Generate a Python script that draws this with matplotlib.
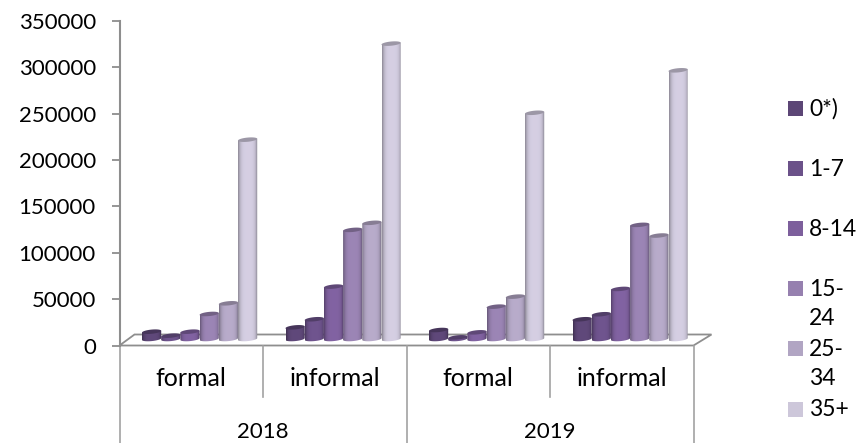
import matplotlib
matplotlib.use('Agg')
import matplotlib.pyplot as plt
import numpy as np
from matplotlib.colors import to_rgb
from matplotlib.patches import PathPatch, Polygon, Rectangle
from matplotlib.path import Path

years = ['2018', '2019']
sectors = ['formal', 'informal', 'formal', 'informal']
ages = ['0*)', '1-7', '8-14', '15-\n24', '25-\n34', '35+']
colors = ['#5c4676', '#6b5189', '#7d5f9c', '#9680af', '#b1a5c3', '#cdc7da']

age_0 = [7900, 12600, 9700, 21300]
age_1_7 = [3600, 21300, 1800, 26700]
age_8_14 = [7900, 56500, 7200, 54000]
age_15_24 = [27000, 117700, 34900, 123100]
age_25_34 = [38500, 125300, 45700, 111600]
age_35 = [215000, 318600, 244000, 289800]
series = [age_0, age_1_7, age_8_14, age_15_24, age_25_34, age_35]

plt.rcParams['font.family'] = ['Lato', 'DejaVu Sans']
plt.rcParams['font.size'] = 16

W, H = 857, 443
fig = plt.figure(figsize=(W / 100, H / 100), dpi=100)
ax = fig.add_axes([119.5 / W, (H - 345.5) / H, 574 / W, 324.5 / H])

# size of one pixel in data units
px = 4 / 574
py = 350000 / 324.5
grey = '#8e8e8e'

# floor of the 3d box
floor = [(0, 0), (4, 0), (4 + 18 * px, 11 * py), (15 * px, 11 * py)]
ax.add_patch(Polygon(floor, closed=True, fc='white', ec=grey, lw=1.3, zorder=1, clip_on=False))

bar_w = 19.2 * px
start = 22.5 * px
base = 6.5 * py
a = bar_w / 2
b = 2.1 * py
tilt = 0.9 * py
t = np.linspace(0, 2 * np.pi, 60)


def shading(color):
    # dark edges, lighter middle, like a lit cylinder
    c = np.array(to_rgb(color))
    u = np.linspace(-1, 1, 64)
    light = 0.68 + 0.36 * np.clip(1 - np.abs(u) ** 4, 0, 1)
    light = np.where(u > 0.8, light - 0.05, light)
    return np.clip(c[None, None, :] * light[None, :, None], 0, 1)


for g in range(4):
    for s, values in enumerate(series):
        left = g + start + s * bar_w
        cx = left + a
        top = base + values[g]
        # body of the cylinder, rounded at the bottom
        arc = np.linspace(np.pi, 2 * np.pi, 30)
        xs = cx + a * np.cos(arc)
        ys = base + b * np.sin(arc) + tilt * np.cos(arc)
        outline = list(zip(xs, ys)) + [(left + bar_w, top + tilt), (left, top - tilt), (xs[0], ys[0])]
        im = ax.imshow(shading(colors[s]), extent=(left, left + bar_w, base - 2 * b, top + 2 * b),
                       aspect='auto', zorder=3 + s * 0.01 + g, interpolation='bilinear')
        im.set_clip_path(PathPatch(Path(outline), transform=ax.transData))
        # lid
        lid_x = cx + a * np.cos(t)
        lid_y = top + b * np.sin(t) + tilt * np.cos(t)
        lid = np.array(to_rgb(colors[s])) * 0.76
        ax.fill(lid_x, lid_y, color=lid, lw=0, zorder=3.005 + s * 0.01 + g)

ax.set_xlim(0, 4)
ax.set_ylim(0, 350000)
ax.set_yticks(np.arange(0, 350001, 50000))
ax.set_xticks([])
ax.tick_params(axis='y', length=6, width=1.3, color=grey, pad=11, labelcolor='black')
for side in ['top', 'right', 'bottom']:
    ax.spines[side].set_visible(False)
ax.spines['left'].set_color(grey)
ax.spines['left'].set_linewidth(1.5)

# two level category axis
for i in range(5):
    low = -51 * py if i % 2 else -98 * py
    ax.plot([i, i], [0, low], color='#a2a2a2', lw=1.2, clip_on=False, zorder=2)
for i, name in enumerate(sectors):
    ax.text(i + 0.5, -32.5 * py, name, ha='center', va='center', clip_on=False, fontsize=18)
for i, name in enumerate(years):
    ax.text(2 * i + 1, -87 * py, name, ha='center', va='center', clip_on=False)

# legend drawn by hand, the entries keep a fixed step
for i, name in enumerate(ages):
    yc = 108.5 + i * 60.1
    fig.add_artist(Rectangle((788 / W, 1 - (yc + 7.5) / H), 15 / W, 15 / H, fc=colors[i], ec='none',
                             transform=fig.transFigure))
    fig.text(809 / W, 1 - (yc - 10) / H, name, ha='left', va='top', linespacing=1.5, fontsize=16.5)

fig.savefig('out.png', dpi=100)
